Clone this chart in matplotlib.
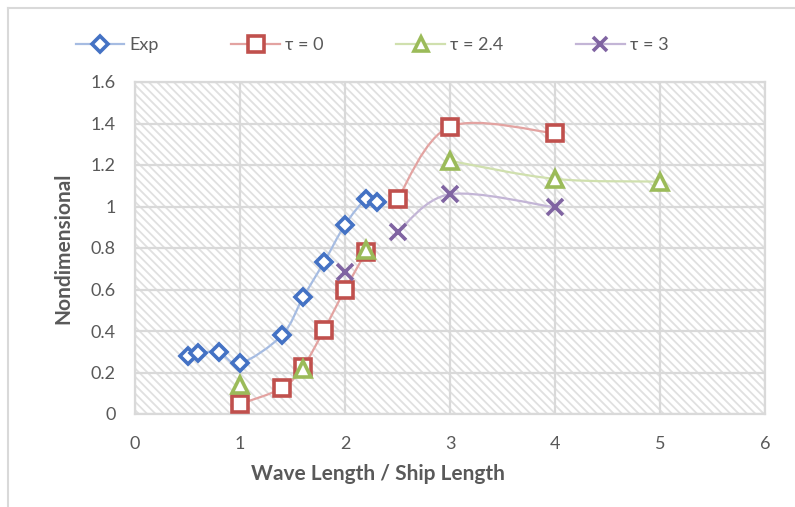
import numpy as np
import matplotlib
matplotlib.use('Agg')
import matplotlib.pyplot as plt
from matplotlib.lines import Line2D
from matplotlib.path import Path
from matplotlib.patches import PathPatch

plt.rcParams['font.family'] = ['Lato', 'DejaVu Sans']
plt.rcParams['hatch.color'] = '#E0E0E0'
plt.rcParams['hatch.linewidth'] = 1.3

# shared x column (blank cells -> None)
x_vals = [0.5, 0.6, 0.8, 1.0, 1.4, 1.6, 1.8, 2.0, 2.2, 2.3, 2.5, 3, 4, 5]
exp_vals = [0.28, 0.294, 0.297, 0.244, 0.38, 0.562, 0.731, 0.912, 1.035, 1.02,
            None, None, None, None]
tau0_vals = [None, None, None, 0.048, 0.125, 0.227, 0.405, 0.60, 0.78, None,
             1.036, 1.385, 1.353, None]
tau24_vals = [None, None, None, 0.14, None, 0.217, None, None, 0.79, None,
              None, 1.22, 1.133, 1.12]
tau3_vals = [None, None, None, None, None, None, None, 0.686, None, None,
             0.877, 1.059, 0.996, None]

labels = ['Exp', 'τ = 0', 'τ = 2.4', 'τ = 3']
marker_colors = ['#4472C4', '#C0504D', '#9BBB59', '#8064A2']
line_colors = ['#A6BCE2', '#E3A3A1', '#D0E0AE', '#C3B5D6']
markers = ['D', 's', '^', 'x']
marker_sizes = [8.5, 12, 11, 11]

text_col = '#595959'
grid_col = '#D9D9D9'


def runs(xs, ys):
    out, cur = [], []
    for x, y in zip(xs, ys):
        if y is None:
            if cur:
                out.append(cur)
            cur = []
        else:
            cur.append((x, y))
    if cur:
        out.append(cur)
    return out


def smooth_path(pts):
    # excel-like smoothed line: cubic bezier with catmull-rom control points
    p = np.array(pts, dtype=float)
    verts = [tuple(p[0])]
    codes = [Path.MOVETO]
    n = len(p)
    for i in range(n - 1):
        p0 = p[i - 1] if i > 0 else p[i]
        p3 = p[i + 2] if i + 2 < n else p[i + 1]
        c1 = p[i] + (p[i + 1] - p0) / 6.0
        c2 = p[i + 1] - (p3 - p[i]) / 6.0
        verts += [tuple(c1), tuple(c2), tuple(p[i + 1])]
        codes += [Path.CURVE4] * 3
    return Path(verts, codes)


fig = plt.figure(figsize=(7.95, 5.07), dpi=100)
ax = fig.add_axes([135 / 795, 1 - 414 / 507, 630 / 795, 332 / 507])

ax.patch.set_facecolor('white')
ax.patch.set_hatch('\\\\\\\\')
ax.patch.set_edgecolor('#E0E0E0')

series = [exp_vals, tau0_vals, tau24_vals, tau3_vals]
handles = []
for k, ys in enumerate(series):
    for seg in runs(x_vals, ys):
        if len(seg) > 1:
            ax.add_patch(PathPatch(smooth_path(seg), facecolor='none',
                                   edgecolor=line_colors[k], lw=1.6, zorder=3))
        sx = [s[0] for s in seg]
        sy = [s[1] for s in seg]
        if markers[k] == 'x':
            ax.plot(sx, sy, ls='none', marker='x', ms=marker_sizes[k],
                    mew=2.6, color=marker_colors[k], zorder=4)
        else:
            ax.plot(sx, sy, ls='none', marker=markers[k], ms=marker_sizes[k],
                    mew=2.6, mfc='white', mec=marker_colors[k], zorder=4)
    handles.append(Line2D([], [], color=line_colors[k], lw=1.6,
                          marker=markers[k], ms=marker_sizes[k] * 0.95,
                          mew=2.6, mfc='white' if markers[k] != 'x' else marker_colors[k],
                          mec=marker_colors[k]))

ax.set_xlim(0, 6)
ax.set_ylim(0, 1.6)
ax.set_xticks(np.arange(0, 7, 1))
ax.set_yticks(np.arange(0, 1.61, 0.2))
ax.set_yticklabels(['0', '0.2', '0.4', '0.6', '0.8', '1', '1.2', '1.4', '1.6'])
ax.tick_params(length=0, labelsize=13, colors=text_col)
ax.tick_params(axis='x', pad=16)
ax.tick_params(axis='y', pad=14)
ax.grid(True, color=grid_col, lw=1.6, zorder=1)
ax.set_axisbelow(True)
for sp in ax.spines.values():
    sp.set_color(grid_col)
    sp.set_linewidth(1.6)

ax.set_xlabel('Wave Length / Ship Length', fontsize=15, fontweight='bold',
              color=text_col)
ax.xaxis.set_label_coords((378 - 135) / 630, -(464 - 414) / 332)
ax.set_ylabel('Nondimensional', fontsize=15, fontweight='bold',
              color=text_col)
ax.yaxis.set_label_coords(-(135 - 73) / 630, 0.5)

fig.legend(handles, labels, loc='center', bbox_to_anchor=(0.468, 1 - 45 / 507),
           ncol=4, frameon=False, fontsize=13, handlelength=2.7,
           columnspacing=4.0, labelcolor=text_col, handletextpad=0.3)

# chart area border (top and left visible)
fig.add_artist(Line2D([8 / 795, 1], [1 - 8 / 507, 1 - 8 / 507], color=grid_col, lw=1.5))
fig.add_artist(Line2D([8 / 795, 8 / 795], [0, 1 - 8 / 507], color=grid_col, lw=1.5))

fig.savefig('out.png', dpi=100)
